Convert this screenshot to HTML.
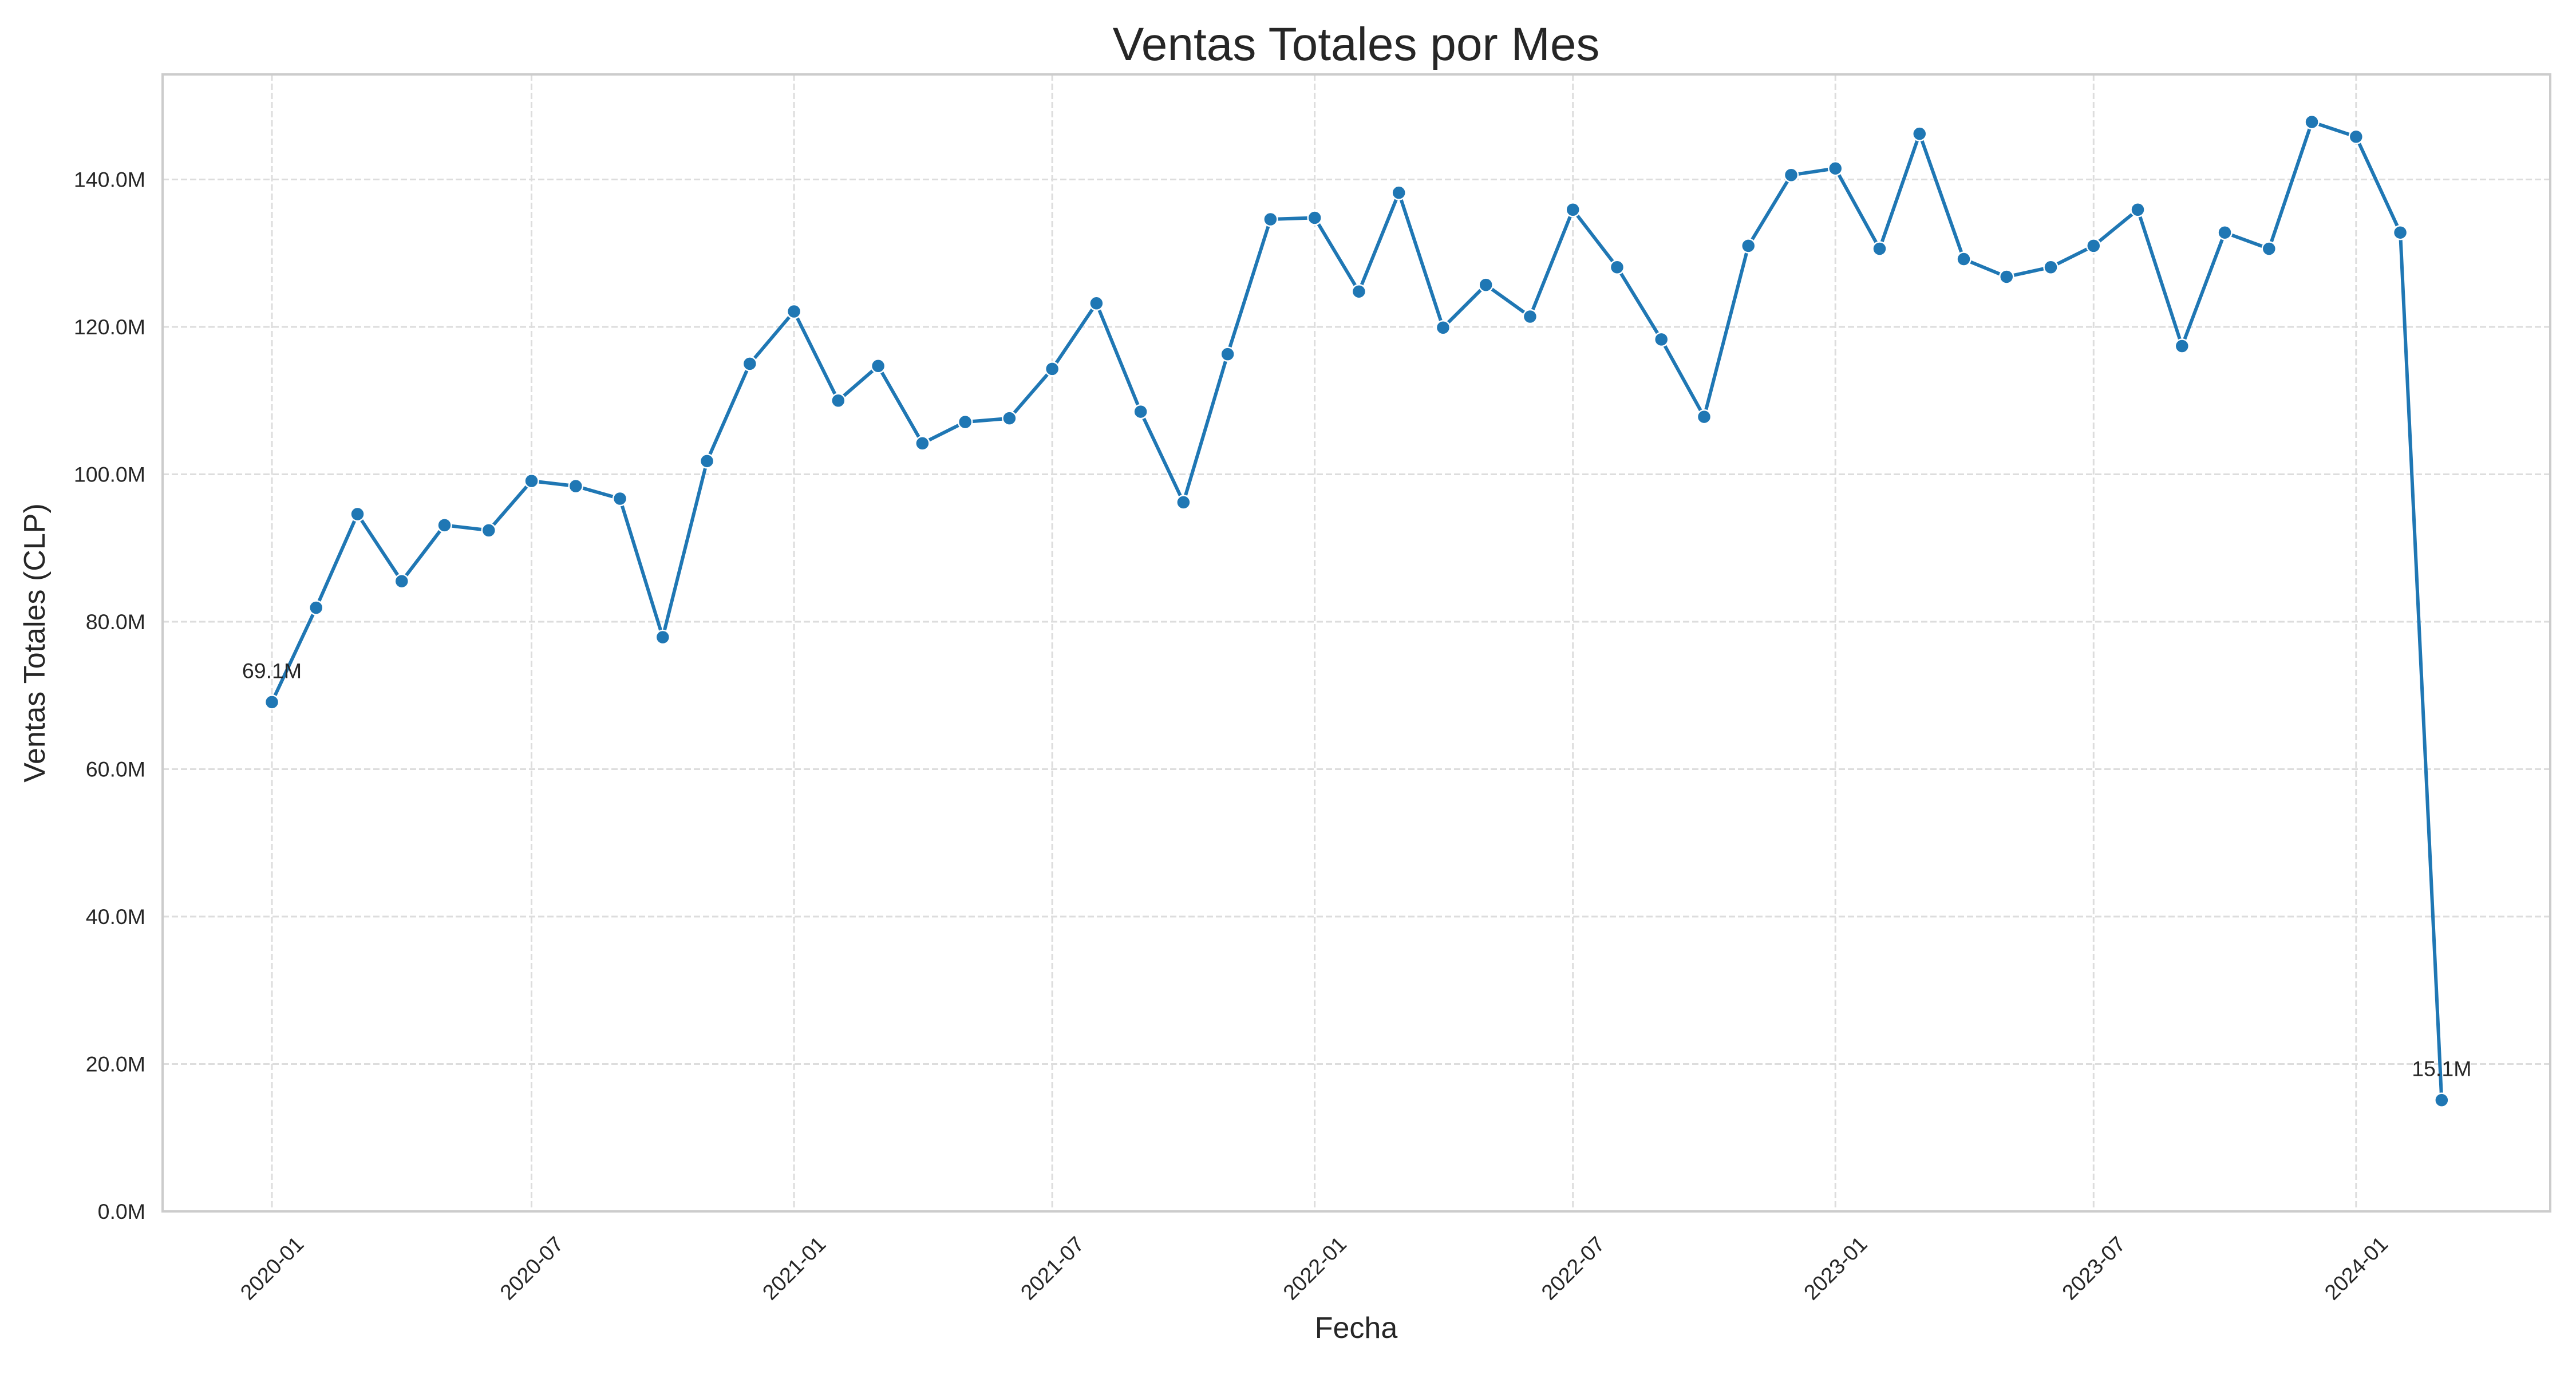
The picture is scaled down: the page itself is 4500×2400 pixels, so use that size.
<!DOCTYPE html>
<html><head><meta charset="utf-8"><style>
html,body{margin:0;padding:0;background:#fff;}
svg{display:block;font-family:"Liberation Sans",Arial,sans-serif;}
</style></head><body>
<svg id="chart" width="4500" height="2400" viewBox="0 0 4500 2400" xmlns="http://www.w3.org/2000/svg">
<rect width="4500" height="2400" fill="#fff"/>
<g id="grid"></g>
<rect x="284" y="130" width="4171" height="1986" fill="none" stroke="#cccccc" stroke-width="4"/>
<g id="series"></g>
<g id="ticks"></g>
<text x="2369" y="105" font-size="82" text-anchor="middle" fill="#262626">Ventas Totales por Mes</text>
<text x="2369" y="2337" font-size="52" text-anchor="middle" fill="#262626">Fecha</text>
<text x="0" y="0" font-size="52" text-anchor="middle" fill="#262626" transform="translate(78,1123) rotate(-90)">Ventas Totales (CLP)</text>
</svg>
<script>
const months = ["2020-01","2020-02","2020-03","2020-04","2020-05","2020-06","2020-07","2020-08","2020-09","2020-10","2020-11","2020-12",
"2021-01","2021-02","2021-03","2021-04","2021-05","2021-06","2021-07","2021-08","2021-09","2021-10","2021-11","2021-12",
"2022-01","2022-02","2022-03","2022-04","2022-05","2022-06","2022-07","2022-08","2022-09","2022-10","2022-11","2022-12",
"2023-01","2023-02","2023-03","2023-04","2023-05","2023-06","2023-07","2023-08","2023-09","2023-10","2023-11","2023-12",
"2024-01","2024-02","2024-03"];
const sales = [69.1,81.9,94.6,85.5,93.1,92.4,99.1,98.4,96.7,77.9,101.8,115.0,
122.1,110.0,114.7,104.2,107.1,107.6,114.3,123.2,108.5,96.2,116.3,134.6,
134.8,124.8,138.2,119.9,125.7,121.4,135.9,128.1,118.3,107.8,131.0,140.6,
141.5,130.6,146.2,129.2,126.8,128.1,131.0,135.9,117.4,132.8,130.6,147.8,
145.8,132.8,15.1];
const yTicks = [0,20,40,60,80,100,120,140];
const xTicks = ["2020-01","2020-07","2021-01","2021-07","2022-01","2022-07","2023-01","2023-07","2024-01"];

const NS = "http://www.w3.org/2000/svg";
const X0 = 475, DAYPX = 2.492, Y0 = 2116, PXPERM = 257.5/20;
function dayIdx(m){const [y,mo]=m.split("-").map(Number);return (Date.UTC(y,mo-1,1)-Date.UTC(2020,0,1))/86400000;}
function xs(m){return X0 + dayIdx(m)*DAYPX;}
function ys(v){return Y0 - v*PXPERM;}
function mk(tag, attrs, parent){const e=document.createElementNS(NS,tag);for(const k in attrs)e.setAttribute(k,attrs[k]);parent.appendChild(e);return e;}

const grid=document.getElementById("grid"), ticks=document.getElementById("ticks"), series=document.getElementById("series");
yTicks.forEach(v=>{
  const l=mk("line",{x1:284,x2:4455,y1:ys(v),y2:ys(v),stroke:"#dddddd","stroke-width":3,"stroke-dasharray":"11 5"},grid);
  
  
  const t=mk("text",{x:254,y:ys(v),"font-size":37.5,"text-anchor":"end","dominant-baseline":"central",fill:"#262626"},ticks);
  t.textContent=v.toFixed(1)+"M";
  
  
});
xTicks.forEach(m=>{
  const x=xs(m);
  const l=mk("line",{x1:x,x2:x,y1:130,y2:2116,stroke:"#dddddd","stroke-width":3,"stroke-dasharray":"11 5"},grid);
  
  
  const t=mk("text",{x:0,y:0,"font-size":37.5,"text-anchor":"middle","dominant-baseline":"central",fill:"#262626",transform:`translate(${x},2215) rotate(-45)`},ticks);
  t.textContent=m;
  
  
});
const pts=months.map((m,i)=>xs(m).toFixed(1)+","+ys(sales[i]).toFixed(1)).join(" ");
const line=mk("polyline",{points:pts,fill:"none",stroke:"#1f77b4","stroke-width":6,"stroke-linejoin":"round"},series);


months.forEach((m,i)=>{
  const c=mk("circle",{cx:xs(m),cy:ys(sales[i]),r:12,fill:"#1f77b4",stroke:"#fff","stroke-width":2.5},series);
  
  
});
[0,months.length-1].forEach(i=>{
  const t=mk("text",{x:xs(months[i]),y:ys(sales[i])-42,"font-size":37.5,"text-anchor":"middle",fill:"#262626"},series);
  t.textContent=sales[i].toFixed(1)+"M";
  
  
});
</script>
</body></html>
